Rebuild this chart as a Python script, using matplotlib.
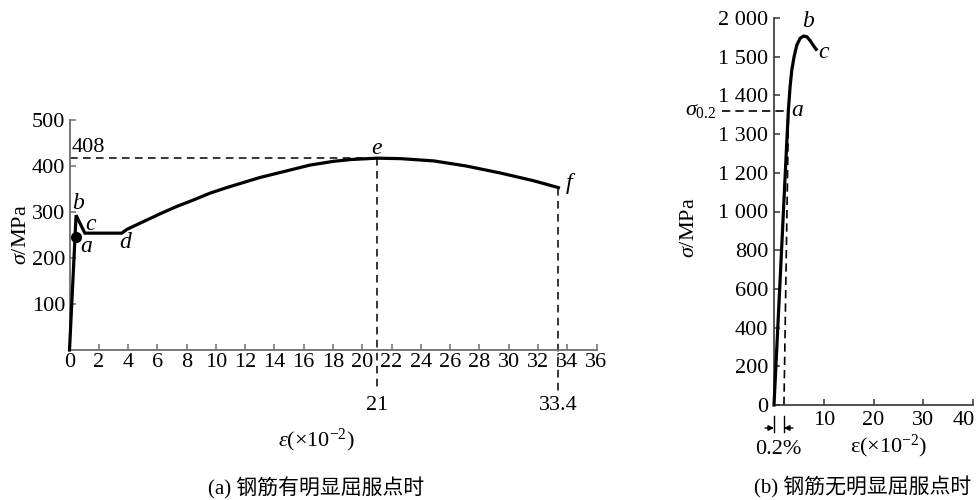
import numpy as np
import matplotlib
matplotlib.use("Agg")
import matplotlib.pyplot as plt
from matplotlib.transforms import blended_transform_factory, ScaledTranslation

plt.rcParams['font.family'] = ['Liberation Serif', 'Noto Sans CJK SC', 'DejaVu Sans']
plt.rcParams['mathtext.fontset'] = 'custom'
plt.rcParams['mathtext.rm'] = 'Liberation Serif'
plt.rcParams['mathtext.it'] = 'Liberation Serif:italic'

# ---------------- data (a) ----------------
strain_a = [0, 0.45, 1.05, 3.57, 3.91, 5.04, 6.18, 7.32, 8.46, 9.60, 10.74, 11.87, 13.01,
            14.15, 15.29, 16.43, 18.0, 19.2, 21.0, 22.6, 24.9, 27.1, 29.4, 31.7, 33.4]
stress_a = [0, 293, 254, 254, 262, 279, 296, 312, 326, 341, 353, 364, 375,
            384, 393, 402, 410, 414, 417, 416, 411, 400, 385, 368, 353]
point_a = (0.42, 245)
peak_e = (21.0, 417)
end_f = (33.4, 353)
xticks_a = list(range(0, 37, 2))
yticks_a = [100, 200, 300, 400, 500]

# ---------------- data (b) ----------------
strain_b = [0, 1.52, 2.27, 2.69, 2.89, 3.23, 3.58, 4.04, 4.59, 5.25, 5.92, 6.61, 7.27, 8.08, 8.48]
stress_b = [0, 800, 1200, 1311, 1362, 1422, 1466, 1500, 1651, 1738, 1767, 1758, 1707, 1629, 1595]
sigma02 = 1360
offset_line_x = [2.0, 2.92]
offset_line_y = [0, 1360]
yticks_b = [0, 200, 400, 600, 800, 1000, 1200, 1300, 1400, 1500, 2000]
yticklabels_b = ['0', '200', '400', '600', '800', '1 000', '1 200', '1 300', '1 400', '1 500', '2 000']
xticks_b = [10, 20, 30, 40]

W, H = 977, 500
fig = plt.figure(figsize=(W / 100, H / 100), dpi=100)

def fx(px):
    return px / W

def fy(py):
    return 1 - py / H

FS = 16
FC = 15
lc = 'black'

# ================= (a) =================
axA = fig.add_axes([fx(69.5), fy(350), fx(596.5) - fx(69.5), fy(120) - fy(350)])
axA.set_xlim(0, 36)
axA.set_ylim(0, 500)
for s in ['top', 'right']:
    axA.spines[s].set_visible(False)
for s in ['left', 'bottom']:
    axA.spines[s].set_color('#6e6e6e')
    axA.spines[s].set_linewidth(1.3)
axA.set_xticks(xticks_a)
axA.set_yticks(yticks_a)
axA.tick_params(direction='in', length=4, width=1.1, color='#6e6e6e', labelsize=FS, pad=3)
axA.tick_params(axis='x', pad=2)

axA.plot(strain_a, stress_a, color=lc, lw=2.3, solid_joinstyle='miter', clip_on=False, zorder=3)
axA.plot([point_a[0]], [point_a[1]], 'o', color=lc, ms=7, zorder=4)

dash = dict(color=lc, lw=1.1, ls=(0, (5, 3.5)), clip_on=False)
axA.plot([0, peak_e[0]], [peak_e[1], peak_e[1]], **dash)
axA.plot([peak_e[0], peak_e[0]], [peak_e[1], -90], **dash)
axA.plot([end_f[0], end_f[0]], [end_f[1], -90], **dash)

axA.text(0.15, peak_e[1] + 3, '408', fontsize=FS, ha='left', va='bottom')
axA.text(peak_e[0], -100, '21', fontsize=FS, ha='center', va='top')
axA.text(end_f[0], -100, '33.4', fontsize=FS, ha='center', va='top')

it = dict(fontsize=FS + 1, style='italic', family='Liberation Serif')
axA.text(1.13, 226, 'a', ha='center', va='center', **it)
axA.text(0.6, 318, 'b', ha='center', va='center', **it)
axA.text(1.45, 273, 'c', ha='center', va='center', **it)
axA.text(3.79, 233, 'd', ha='center', va='center', **it)
axA.text(21.0, 437, 'e', ha='center', va='center', **it)
axA.text(34.1, 363, 'f', ha='center', va='center', **it)

fig.text(fx(22), fy(235), r'$\sigma$/MPa', rotation=90, fontsize=FS, ha='center', va='center')
fig.text(fx(316), fy(440), r'$\varepsilon(\times10^{-2})$', fontsize=FS, ha='center', va='center')
fig.text(fx(316), fy(488), '(a) 钢筋有明显屈服点时', fontsize=FC,
         family=['Liberation Serif', 'Noto Sans CJK SC'], ha='center', va='center')

# ================= (b) =================
idx = np.arange(len(yticks_b), dtype=float)
vals = np.array(yticks_b, dtype=float)

def fwd(v):
    return np.interp(v, vals, idx, left=-1e-9, right=idx[-1])

def inv(i):
    return np.interp(i, idx, vals)

axB = fig.add_axes([fx(774), fy(405), fx(973) - fx(774), fy(18) - fy(405)])
axB.set_yscale('function', functions=(fwd, inv))
axB.set_xlim(0, 40)
axB.set_ylim(0, 2000)
for s in ['top', 'right']:
    axB.spines[s].set_visible(False)
for s in ['left', 'bottom']:
    axB.spines[s].set_color('#333333')
    axB.spines[s].set_linewidth(1.2)
axB.set_yticks(yticks_b)
axB.set_yticklabels(yticklabels_b)
axB.yaxis.set_minor_locator(matplotlib.ticker.NullLocator())
axB.set_xticks(xticks_b)
axB.tick_params(direction='in', length=4, width=1.1, color='#333333', labelsize=FS, pad=4)
# keep the last x tick label ("40") inside the picture edge
last_lbl = axB.get_xticklabels()[-1]
last_lbl.set_transform(last_lbl.get_transform() + ScaledTranslation(-9 / 100, 0, fig.dpi_scale_trans))

axB.plot(strain_b, stress_b, color=lc, lw=2.3, clip_on=False, zorder=3)
axB.plot(offset_line_x, offset_line_y, color=lc, lw=1.2, ls=(0, (5, 3)), clip_on=False)
axB.plot([-10.5, offset_line_x[1]], [sigma02, sigma02], color=lc, lw=1.2, ls=(0, (5, 3)), clip_on=False)

axB.text(-11.5, sigma02, r'$\sigma_{0.2}$', fontsize=FS, ha='right', va='center')
itB = dict(fontsize=FS + 1, style='italic', family='Liberation Serif')
axB.text(4.65, sigma02, 'a', ha='center', va='center', **itB)
axB.text(6.9, 1961, 'b', ha='center', va='center', **itB)
axB.text(9.9, 1550, 'c', ha='center', va='center', **itB)

# 0.2% dimension below the axis
tB = blended_transform_factory(axB.transData, fig.transFigure)
for xv in [0.0, offset_line_x[0]]:
    axB.plot([xv, xv], [fy(416), fy(432)], color=lc, lw=1.0, transform=tB, clip_on=False)
arrow_kw = dict(arrowstyle='-|>', color=lc, lw=1.0, mutation_scale=8, shrinkA=0, shrinkB=0)
axB.annotate('', xy=(0.0, fy(428)), xytext=(-1.8, fy(428)), xycoords=tB, textcoords=tB,
             arrowprops=arrow_kw, annotation_clip=False)
axB.annotate('', xy=(offset_line_x[0], fy(428)), xytext=(3.8, fy(428)), xycoords=tB, textcoords=tB,
             arrowprops=arrow_kw, annotation_clip=False)
fig.text(fx(778), fy(450), '0.2%', fontsize=FS, ha='center', va='center')

fig.text(fx(690), fy(228), r'$\sigma$/MPa', rotation=90, fontsize=FS, ha='center', va='center')
fig.text(fx(889), fy(446), r'$\mathrm{\varepsilon}(\times10^{-2})$', fontsize=FS, ha='center', va='center')
fig.text(fx(863), fy(487), '(b) 钢筋无明显屈服点时', fontsize=FC,
         family=['Liberation Serif', 'Noto Sans CJK SC'], ha='center', va='center')

fig.savefig('out.png', dpi=100)
